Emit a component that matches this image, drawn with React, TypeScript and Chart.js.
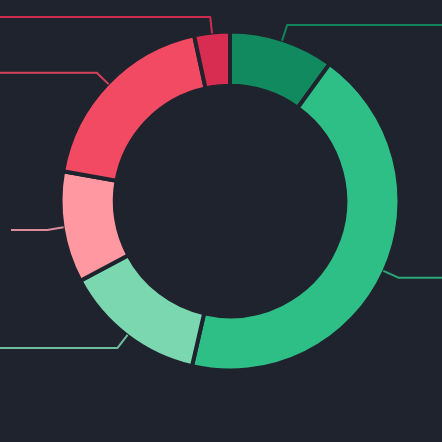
import React, { useEffect, useRef } from "react";
import { Chart, registerables } from "chart.js";

Chart.register(...registerables);

const categories = ["Segment 1", "Segment 2", "Segment 3", "Segment 4", "Segment 5", "Segment 6"];
const values = [10.0, 43.6, 13.6, 10.6, 18.8, 3.4];
const sliceColors = ["#128a5f", "#2ebf87", "#7bd7b0", "#ff98a1", "#f34a63", "#d82d50"];
const lineColors = [
  "rgba(18,138,95,0.95)",
  "rgba(46,191,135,0.85)",
  "rgba(123,215,176,0.85)",
  "rgba(255,160,172,0.85)",
  "rgba(243,74,99,0.85)",
  "rgba(216,45,80,0.95)",
];
const lineEdgeInset = [0, 0, 0, 11, 0, 0];

const BG = "#1f232d";

const leaderLines = {
  id: "leaderLines",
  afterDatasetsDraw(chart: any) {
    const ctx = chart.ctx;
    const meta = chart.getDatasetMeta(0);
    ctx.save();
    ctx.lineWidth = 2;
    ctx.lineJoin = "round";
    ctx.lineCap = "butt";
    meta.data.forEach((el: any, i: number) => {
      const p = el.getProps(["x", "y", "startAngle", "endAngle", "outerRadius"], true);
      const mid = (p.startAngle + p.endAngle) / 2;
      const c = Math.cos(mid);
      const s = Math.sin(mid);
      const r1 = p.outerRadius - 1;
      const r2 = p.outerRadius + 15.5;
      const x1 = p.x + r1 * c;
      const y1 = p.y + r1 * s;
      const x2 = p.x + r2 * c;
      const y2 = p.y + r2 * s;
      const x3 = c >= 0 ? chart.width - lineEdgeInset[i] : lineEdgeInset[i];
      ctx.strokeStyle = lineColors[i];
      ctx.beginPath();
      ctx.moveTo(x1, y1);
      ctx.lineTo(x2, y2);
      ctx.lineTo(x3, y2);
      ctx.stroke();
    });
    ctx.restore();
  },
};

export default function App() {
  const ref = useRef<HTMLCanvasElement>(null);
  useEffect(() => {
    document.body.style.margin = "0";
    document.body.style.background = BG;
    const chart = new Chart(ref.current as HTMLCanvasElement, {
      type: "doughnut",
      data: {
        labels: categories,
        datasets: [
          {
            data: values,
            backgroundColor: sliceColors,
            borderColor: BG,
            borderWidth: 4,
            hoverOffset: 0,
          },
        ],
      },
      options: {
        responsive: false,
        animation: false,
        devicePixelRatio: 1,
        radius: 169.5,
        cutout: "68%",
        layout: { padding: { left: 18, right: 0, top: 0, bottom: 40 } },
        plugins: {
          legend: { display: false },
          tooltip: { enabled: false },
        },
      } as any,
      plugins: [leaderLines],
    });
    return () => chart.destroy();
  }, []);
  return (
    <div style={{ position: "fixed", left: 0, top: 0, width: 442, height: 442, background: BG }}>
      <canvas ref={ref} width={442} height={442} />
    </div>
  );
}
